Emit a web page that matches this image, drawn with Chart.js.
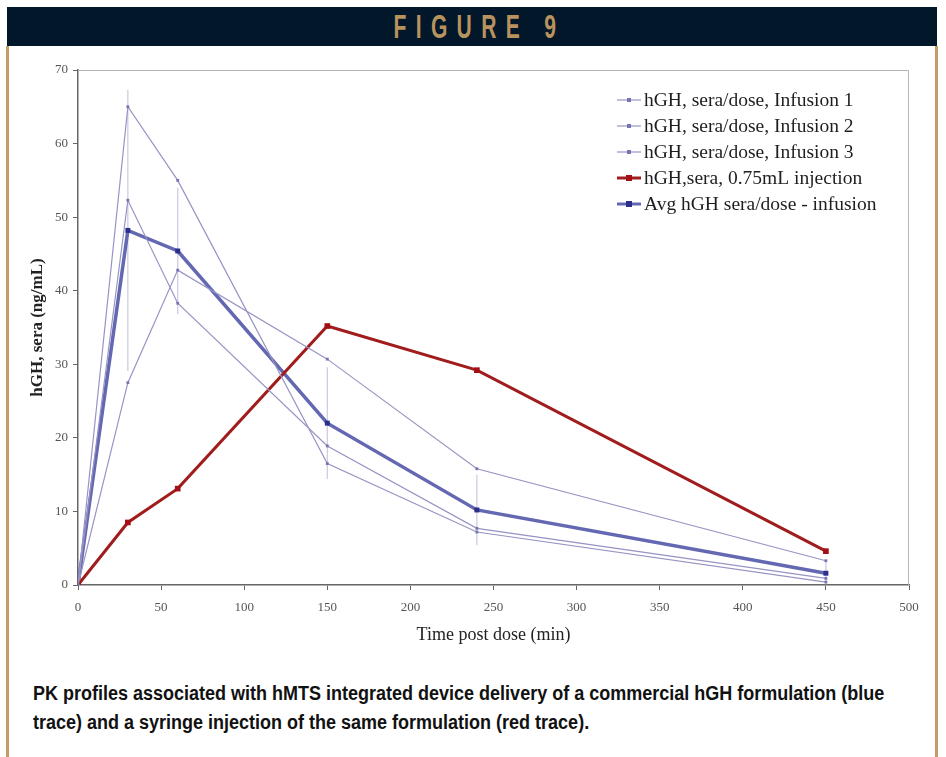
<!DOCTYPE html>
<html>
<head>
<meta charset="utf-8">
<script src="https://cdn.jsdelivr.net/npm/chart.js@4.4.1/dist/chart.umd.min.js"></script>
<style>
  body { margin: 0; background: #fff; width: 946px; height: 757px; position: relative; overflow: hidden; }
  #head { position: absolute; left: 7px; top: 7px; width: 930px; height: 39px; background: #03172a; text-align: center; }
  #head span { display: inline-block; color: #b8935e; font: bold 34px/39px "Liberation Sans", sans-serif;
               letter-spacing: 15px; transform: scaleX(0.62); transform-origin: center; margin-left: 15px; }
  #frameL { position: absolute; left: 6px; top: 46px; width: 3px; height: 711px; background: #c19d68; }
  #frameR { position: absolute; left: 935px; top: 46px; width: 3px; height: 711px; background: #c19d68; }
  #wrap { position: absolute; left: 0; top: 50px; width: 946px; height: 600px; }
  #caption { position: absolute; left: 33px; top: 679px; width: 960px; color: #111;
             font: bold 20px/29px "Liberation Sans", sans-serif; transform: scaleX(0.9); transform-origin: left top; }
</style>
</head>
<body>
<div id="head"><span>FIGURE 9</span></div>
<div id="frameL"></div>
<div id="frameR"></div>
<div id="wrap"><canvas id="myChart"></canvas></div>
<div id="caption">PK profiles associated with hMTS integrated device delivery of a commercial hGH formulation (blue<br>trace) and a syringe injection of the same formulation (red trace).</div>
<script>
// time points (min)
var times = [0, 30, 60, 150, 240, 450];

// series values (ng/mL)
var infusion1 = [0, 65.0, 55.0, 16.5, 7.2, 0.4];
var infusion2 = [0, 52.3, 38.3, 18.9, 7.7, 0.9];
var infusion3 = [0, 27.5, 42.8, 30.7, 15.8, 3.3];
var injection = [0, 8.5, 13.1, 35.2, 29.2, 4.6];
var avgInfusion = [0, 48.2, 45.4, 22.0, 10.2, 1.6];
var avgSd = [0, 19.1, 8.6, 7.6, 4.8, 1.5];

var seriesLabels = [
    'hGH, sera/dose, Infusion 1',
    'hGH, sera/dose, Infusion 2',
    'hGH, sera/dose, Infusion 3',
    'hGH,sera, 0.75mL injection',
    'Avg hGH sera/dose - infusion'
];

function pts(vals) {
    return vals.map(function (v, i) { return { x: times[i], y: v }; });
}

function thinSet(label, vals) {
    return {
        label: label, data: pts(vals),
        borderColor: '#9794c4', borderWidth: 1.2,
        pointStyle: 'rect', pointRadius: 2, backgroundColor: '#7774b2', pointBorderWidth: 0,
        legendLine: 1.2, legendBox: 4
    };
}

// error bars (avg +/- sd) drawn with the chart's own scales
var errorBars = {
    id: 'errorBars',
    beforeDatasetsDraw: function (chart) {
        var c = chart.ctx, xs = chart.scales.x, ys = chart.scales.y;
        c.save();
        c.strokeStyle = '#cbc9e0';
        c.lineWidth = 1.2;
        times.forEach(function (t, i) {
            if (!avgSd[i]) return;
            var px = xs.getPixelForValue(t);
            c.beginPath();
            c.moveTo(px, ys.getPixelForValue(avgInfusion[i] + avgSd[i]));
            c.lineTo(px, ys.getPixelForValue(avgInfusion[i] - avgSd[i]));
            c.stroke();
        });
        c.restore();
    }
};

// frame + in-plot legend
var framePlugin = {
    id: 'framePlugin',
    afterDraw: function (chart) {
        var c = chart.ctx, a = chart.chartArea;
        c.save();
        c.strokeStyle = '#b5b5b5';
        c.lineWidth = 1;
        c.beginPath();
        c.moveTo(a.left, a.top + 0.5);
        c.lineTo(a.right - 0.5, a.top + 0.5);
        c.lineTo(a.right - 0.5, a.bottom);
        c.stroke();

        var lx = a.left + 539, ly = a.top + 30;
        c.font = '19.5px "Liberation Serif", "Times New Roman", serif';
        c.textBaseline = 'middle';
        chart.data.datasets.forEach(function (ds, i) {
            var y = ly + i * 26;
            c.strokeStyle = ds.borderColor;
            c.lineWidth = ds.legendLine;
            c.beginPath();
            c.moveTo(lx, y);
            c.lineTo(lx + 24, y);
            c.stroke();
            c.fillStyle = ds.backgroundColor;
            c.fillRect(lx + 12 - ds.legendBox / 2, y - ds.legendBox / 2, ds.legendBox, ds.legendBox);
            c.fillStyle = '#1e1e1e';
            c.fillText(ds.label, lx + 27, y + 1);
        });
        c.restore();
    }
};

var ctx = document.getElementById('myChart').getContext('2d');

var myChart = new Chart(ctx, {
    type: 'line',
    data: {
        datasets: [
            thinSet(seriesLabels[0], infusion1),
            thinSet(seriesLabels[1], infusion2),
            thinSet(seriesLabels[2], infusion3),
            {
                label: seriesLabels[3], data: pts(injection),
                borderColor: '#a11c1c', borderWidth: 3,
                pointStyle: 'rect', pointRadius: 4, backgroundColor: '#a30f14', pointBorderWidth: 0,
                legendLine: 3, legendBox: 6
            },
            {
                label: seriesLabels[4], data: pts(avgInfusion),
                borderColor: '#6468b2', borderWidth: 3.5,
                pointStyle: 'rect', pointRadius: 3.5, backgroundColor: '#2b2f8c', pointBorderWidth: 0,
                legendLine: 3, legendBox: 6
            }
        ]
    },
    options: {
        responsive: true,
        maintainAspectRatio: false,
        animation: false,
        layout: { padding: { top: 20, right: 37, left: 0, bottom: 0 } },
        plugins: { legend: { display: false }, tooltip: { enabled: false } },
        scales: {
            x: {
                type: 'linear', min: 0, max: 500,
                ticks: { stepSize: 50, color: '#555', padding: 10, font: { family: '"Liberation Serif", serif', size: 13 } },
                grid: { drawOnChartArea: false, tickLength: 5, color: '#666' },
                border: { color: '#666', width: 1.5 },
                title: { display: true, text: 'Time post dose (min)', color: '#222', padding: { top: 0 },
                         font: { family: '"Liberation Serif", serif', size: 18 } },
                afterFit: function (s) { s.height = 65; }
            },
            y: {
                min: 0, max: 70,
                ticks: { stepSize: 10, color: '#555', padding: 5, font: { family: '"Liberation Serif", serif', size: 13 } },
                grid: { drawOnChartArea: false, tickLength: 5, color: '#666' },
                border: { color: '#666', width: 1.5 },
                title: { display: true, text: 'hGH, sera (ng/mL)', color: '#222', padding: { top: 27, bottom: 0 },
                         font: { family: '"Liberation Serif", serif', size: 17, weight: 'bold' } },
                afterFit: function (s) { s.width = 78; }
            }
        }
    },
    plugins: [errorBars, framePlugin]
});
</script>
</body>
</html>
